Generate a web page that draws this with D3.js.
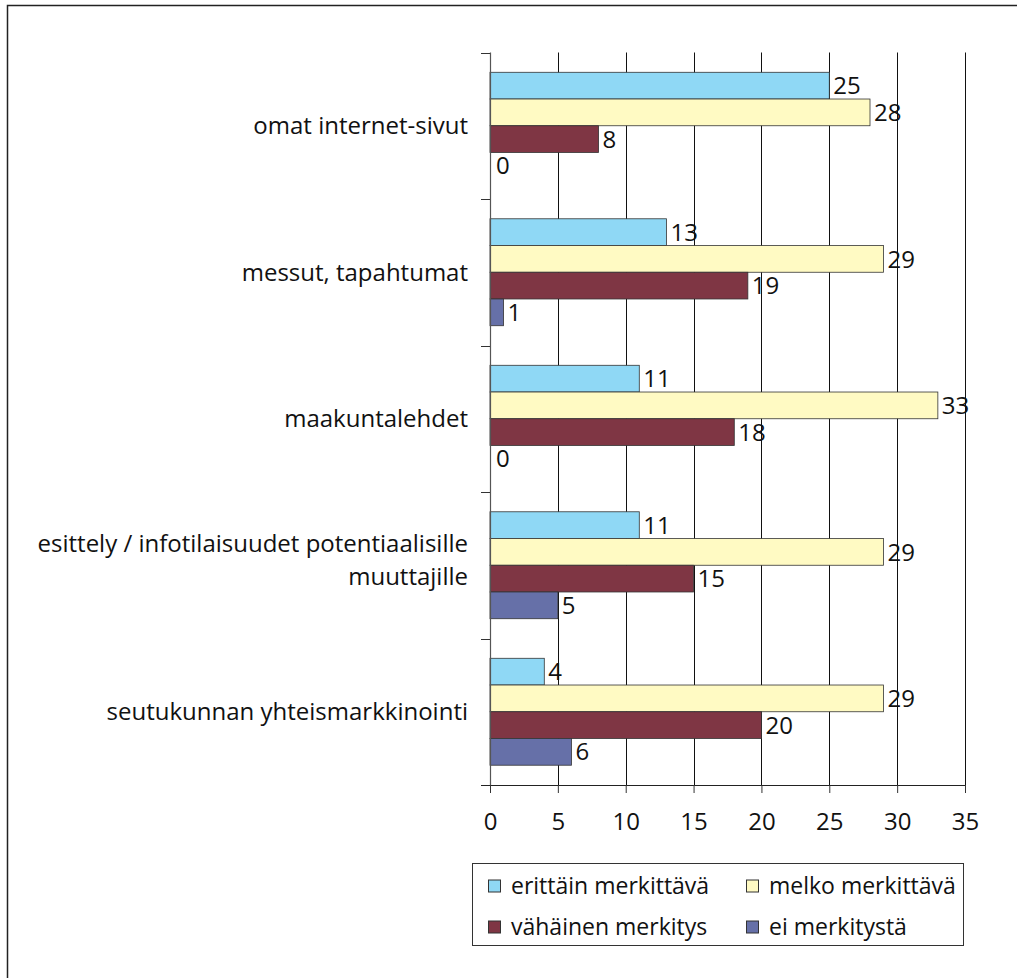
<!DOCTYPE html>
<html>
<head>
<meta charset="utf-8">
<script src="https://cdn.jsdelivr.net/npm/d3@7"></script>
<style>
  html, body { margin: 0; padding: 0; background: #fff; }
  svg { display: block; font-family: "Open Sans", "Noto Sans", sans-serif; }
</style>
</head>
<body>
<script>
// Categories, top to bottom
const categories = [
  ["omat internet-sivut"],
  ["messut, tapahtumat"],
  ["maakuntalehdet"],
  ["esittely / infotilaisuudet potentiaalisille", "muuttajille"],
  ["seutukunnan yhteismarkkinointi"]
];
const seriesNames = ["erittäin merkittävä", "melko merkittävä", "vähäinen merkitys", "ei merkitystä"];
const seriesColors = ["#8fd8f5", "#fffac3", "#7f3644", "#6670a8"];
// Values per series, in category order
const erittain = [25, 13, 11, 11, 4];
const melko    = [28, 29, 33, 29, 29];
const vahainen = [8, 19, 18, 15, 20];
const eiMerk   = [0, 1, 0, 5, 6];
const seriesValues = [erittain, melko, vahainen, eiMerk];
const xTicks = [0, 5, 10, 15, 20, 25, 30, 35];

const W = 1017, H = 978;
const plot = { left: 490, right: 965, top: 52.5, bottom: 785 };

const svg = d3.select("body").append("svg").attr("width", W).attr("height", H);

// outer frame
svg.append("rect").attr("x", 7.5).attr("y", 5.5).attr("width", W + 10).attr("height", H + 10)
  .attr("fill", "none").attr("stroke", "#222").attr("stroke-width", 1.5);

const x = d3.scaleLinear().domain([0, 35]).range([plot.left, plot.right]);
const y = d3.scaleBand().domain(d3.range(categories.length)).range([plot.top, plot.bottom]).paddingInner(0).paddingOuter(0);
const inner = d3.scaleBand().domain(d3.range(seriesNames.length))
  .range([0, y.bandwidth()]).paddingOuter(0.74).paddingInner(0);

// vertical gridlines
svg.append("g").selectAll("line").data(xTicks.slice(1)).join("line")
  .attr("x1", d => Math.round(x(d)) + 0.5).attr("x2", d => Math.round(x(d)) + 0.5)
  .attr("y1", plot.top).attr("y2", plot.bottom)
  .attr("stroke", "#111").attr("stroke-width", 1);

// bars
const rows = [];
categories.forEach((c, ci) => seriesValues.forEach((vals, si) => rows.push({ ci, si, v: vals[ci] })));

const g = svg.append("g");
g.selectAll("rect").data(rows).join("rect")
  .attr("x", x(0))
  .attr("y", d => y(d.ci) + inner(d.si))
  .attr("width", d => x(d.v) - x(0))
  .attr("height", inner.bandwidth())
  .attr("fill", d => seriesColors[d.si])
  .attr("stroke", d => d.v > 0 ? "#333" : "none")
  .attr("stroke-width", 0.8);

// value labels
g.selectAll("text").data(rows).join("text")
  .attr("x", d => x(d.v) + (d.v > 0 ? 4 : 6))
  .attr("y", d => y(d.ci) + inner(d.si) + inner.bandwidth() / 2)
  .attr("dy", "0.36em")
  .attr("font-size", 24)
  .attr("fill", "#111")
  .text(d => d.v);

// left axis line with tick marks
const yAxisG = svg.append("g");
yAxisG.append("line").attr("x1", plot.left + 0.5).attr("x2", plot.left + 0.5)
  .attr("y1", plot.top).attr("y2", plot.bottom).attr("stroke", "#555").attr("stroke-width", 1.2);
const bounds = d3.range(categories.length + 1).map(i => i === categories.length ? plot.bottom : y(i));
yAxisG.selectAll("line.t").data(bounds).join("line").attr("class", "t")
  .attr("x1", plot.left - 9).attr("x2", plot.left)
  .attr("y1", d => Math.round(d) + 0.5).attr("y2", d => Math.round(d) + 0.5)
  .attr("stroke", "#333").attr("stroke-width", 1);

// category labels (multi-line labels as separate text lines)
const catG = svg.append("g");
categories.forEach((lines, ci) => {
  const cy = y(ci) + y.bandwidth() / 2;
  const lh = 33;
  const shift = lines.length > 1 ? -5 : 0;
  lines.forEach((ln, li) => {
    catG.append("text").attr("text-anchor", "end").attr("font-size", 24).attr("fill", "#111")
      .attr("x", 468)
      .attr("y", cy + shift + (li - (lines.length - 1) / 2) * lh)
      .attr("dy", "0.36em").text(ln);
  });
});

// bottom axis
const xAxis = d3.axisBottom(x).tickValues(xTicks).tickSize(8).tickPadding(20).tickSizeOuter(0);
const xg = svg.append("g").attr("transform", `translate(0,${plot.bottom})`).call(xAxis);
xg.select(".domain").attr("stroke", "#222").attr("d", `M${plot.left - 9},0.5H${plot.right}`);
xg.selectAll(".tick line").attr("stroke", "#333");
xg.selectAll(".tick text").attr("font-size", 24).attr("fill", "#111")
  .attr("font-family", "'Open Sans', 'Noto Sans', sans-serif");

// legend
const lg = svg.append("g");
lg.append("rect").attr("x", 472.5).attr("y", 863.5).attr("width", 491).attr("height", 82)
  .attr("fill", "#fff").attr("stroke", "#333").attr("stroke-width", 1);
const legPos = [[488, 886], [746, 886], [488, 927], [746, 927]];
seriesNames.forEach((name, i) => {
  const [lx, ly] = legPos[i];
  lg.append("rect").attr("x", lx + 0.5).attr("y", ly - 6).attr("width", 12).attr("height", 12)
    .attr("fill", seriesColors[i]).attr("stroke", "#333").attr("stroke-width", 1);
  lg.append("text").attr("x", lx + 23).attr("y", ly).attr("dy", "0.36em")
    .attr("font-size", 23).attr("fill", "#111").text(name);
});
</script>
</body>
</html>
